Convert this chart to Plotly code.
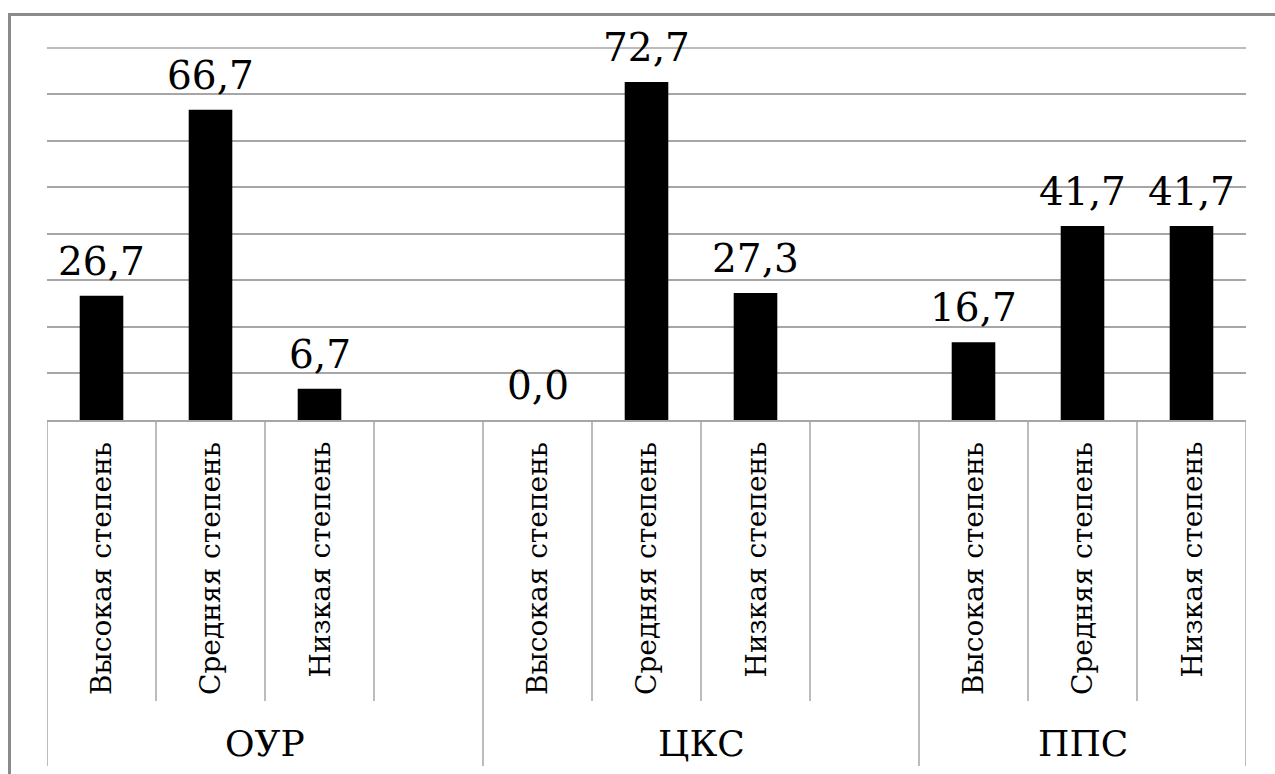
import plotly.graph_objects as go

# Survey results by group, percentage of respondents per level
groups = ["ОУР", "ЦКС", "ППС"]
levels = ["Высокая степень", "Средняя степень", "Низкая степень"]
values_oup = [26.7, 66.7, 6.7]
values_cks = [0.0, 72.7, 27.3]
values_pps = [16.7, 41.7, 41.7]
group_values = [values_oup, values_cks, values_pps]
# slots per group on the category axis (the first two groups keep an empty slot)
group_slots = [4, 4, 3]

FONT = "DejaVu Serif"
GRID = "#a6a6a6"

W, H = 1275, 774
L, R, T, B = 47, 29, 47, 354
Y_MAX = 80.2
plot_w = W - L - R
plot_h = H - T - B


def py(pixel_y):
    """Pixel row -> paper y."""
    return (H - B - pixel_y) / plot_h


def px(pixel_x):
    """Pixel column -> paper x."""
    return (pixel_x - L) / plot_w


xs, ys, texts, tick_x, tick_text = [], [], [], [], []
starts = []
pos = 0
for g, vals, n in zip(groups, group_values, group_slots):
    starts.append(pos)
    for i, v in enumerate(vals):
        xs.append(pos + i)
        ys.append(v)
        texts.append(f"{v:.1f}".replace(".", ","))
        tick_x.append(pos + i)
        tick_text.append(levels[i])
    pos += n
total_slots = pos

fig = go.Figure()
fig.add_trace(go.Bar(
    x=xs, y=ys, width=0.4,
    marker=dict(color="black", line=dict(width=0)),
    hoverinfo="skip",
))

annotations = []
# value labels above the bars
for x, y, t in zip(xs, ys, texts):
    annotations.append(dict(
        x=x, y=y, xref="x", yref="y", text=t, showarrow=False,
        yanchor="bottom", yshift=10,
        font=dict(family=FONT, size=39, color="black"),
    ))
# rotated level labels
for x, t in zip(tick_x, tick_text):
    annotations.append(dict(
        x=x, y=py(440), xref="x", yref="paper", text=t, showarrow=False,
        textangle=-90, yanchor="top", xanchor="center",
        font=dict(family=FONT, size=28, color="black"),
    ))
# group labels
for g, s, n in zip(groups, starts, group_slots):
    annotations.append(dict(
        x=s + (n - 1) / 2, y=py(743), xref="x", yref="paper", text=g,
        showarrow=False, yanchor="middle",
        font=dict(family=FONT, size=36, color="black"),
    ))

shapes = []
# top gridline at the upper bound of the value scale
shapes.append(dict(
    type="line", xref="paper", yref="y", x0=0, x1=1, y0=80, y1=80,
    line=dict(color=GRID, width=1.5), layer="below",
))
group_edges = set(starts + [total_slots])
for b in range(total_slots + 1):
    bottom = py(766) if b in group_edges else py(701)
    shapes.append(dict(
        type="line", xref="x", yref="paper", x0=b - 0.5, x1=b - 0.5,
        y0=0, y1=bottom, line=dict(color=GRID, width=1.5),
    ))
# outer chart frame
shapes.append(dict(
    type="rect", xref="paper", yref="paper",
    x0=px(9.5), x1=px(1300), y0=py(900), y1=py(14.5),
    line=dict(color="#8a8a8a", width=3), layer="below",
))

fig.update_layout(
    width=W, height=H,
    margin=dict(l=L, r=R, t=T, b=B),
    paper_bgcolor="white", plot_bgcolor="white",
    showlegend=False,
    font=dict(family=FONT),
    xaxis=dict(
        range=[-0.5, total_slots - 0.5], showticklabels=False,
        showgrid=False, zeroline=False, showline=True,
        linecolor=GRID, linewidth=1.5, fixedrange=True,
    ),
    yaxis=dict(
        range=[0, Y_MAX], dtick=10, showticklabels=False,
        showgrid=True, gridcolor=GRID, gridwidth=1.5,
        zeroline=False, showline=False, fixedrange=True,
    ),
    annotations=annotations,
    shapes=shapes,
)

fig.write_html("out.html")
